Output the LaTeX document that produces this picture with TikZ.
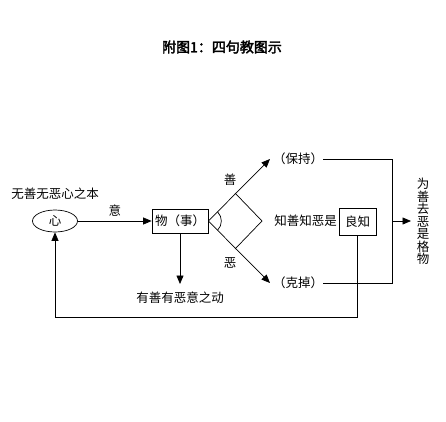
\documentclass[tikz,border=0pt]{standalone}
\usepackage{fontspec}
\newfontfamily\cjk{Noto Sans CJK SC}
\newfontfamily\cjkb[FakeBold=2.5]{Noto Sans CJK SC}
\usetikzlibrary{arrows.meta,shapes.geometric}
\begin{document}
\begin{tikzpicture}[x=1pt,y=-1pt,
  every node/.style={inner sep=0pt,font=\cjk\fontsize{12.5}{13}\selectfont},
  ln/.style={line width=0.7pt},
  arr/.style={ln,-{Triangle[length=8.5pt,width=7pt]}},
  boxn/.style={draw,line width=0.7pt,minimum height=24pt,inner xsep=3pt}]
\useasboundingbox[fill=white] (0,0) rectangle (446,421);
% title
\node[font=\cjkb\fontsize{14}{16}\selectfont] (title) at (222,47) {附图1：四句教图示};
% left
\node[draw,ellipse,ln,minimum width=45pt,minimum height=22pt,inner sep=0pt] (xin) at (55,221) {心};
\node (ben) at (55,194) {无善无恶心之本};
\node[boxn,minimum width=54pt] (wu) at (180,221) {物（事）};
\draw[arr] (xin) -- (wu) node[midway,above=4pt] (yi) {意};
\coordinate (dn) at (180,284);
\draw[arr] (wu) -- (dn);
\node (dong) at (180,298) {有善有恶意之动};
% diamond
\coordinate (dT) at (235,193);
\coordinate (dR) at (262,221);
\coordinate (dB) at (235,249);
\coordinate (utip) at (270,159);
\coordinate (btip) at (270,283);
\draw[arr] (wu.east) -- (utip);
\draw[arr] (wu.east) -- (btip);
\draw[ln] (dT) -- (dR) -- (dB);
\draw[ln] ([shift={(-45:13)}]wu.east) arc[start angle=-45,end angle=45,radius=13];
\node (shan) at (230,180) {善};
\node (e) at (230,263) {恶};
\node (bao) at (298,159) {（保持）};
\node (ke) at (298,283) {（克掉）};
\coordinate (bt) at (392,159);
\coordinate (bb) at (392,283);
\coordinate (bm) at (392,221);
\draw[ln] (bao.east) -- (bt) -- (bb) -- (ke.east);
\node (g1) at (423,184) {为};
\node (g2) at (423,196.5) {善};
\node (g3) at (423,209) {去};
\node (g4) at (423,221.5) {恶};
\node (g5) at (423,234) {是};
\node (g6) at (423,246.5) {格};
\node (g7) at (423,259) {物};
\coordinate (gw) at (411,221);
\draw[arr] (bm) -- (gw);
\node[anchor=east] (zhi) at (337,221) {知善知恶是};
\node[boxn,minimum width=37pt,minimum height=27pt] (liang) at (357.5,221.5) {良知};
% feedback
\coordinate (f1) at (357,317);
\coordinate (f2) at (55,317);
\draw[arr] (liang.south -| f1) -- (f1) -- (f2) -- (xin.south);
\end{tikzpicture}
\end{document}
